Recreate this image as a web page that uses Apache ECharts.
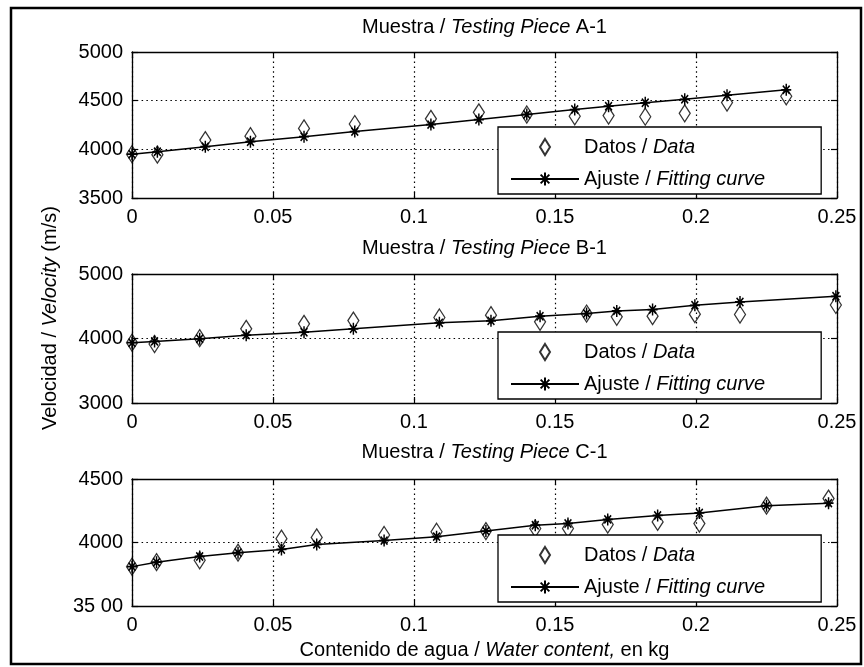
<!DOCTYPE html>
<html><head><meta charset="utf-8">
<script src="https://cdn.jsdelivr.net/npm/echarts@6/dist/echarts.min.js"></script>
<style>html,body{margin:0;padding:0;background:#fff}#c{width:864px;height:667px}</style>
</head><body><div id="c"></div><script>
// ---- tick labels ----
const xTickLabels = ['0', '0.05', '0.1', '0.15', '0.2', '0.25'];
const yTickLabelsA = ['3500', '4000', '4500', '5000'];
const yTickLabelsB = ['3000', '4000', '5000'];
const yTickLabelsC = ['35 00', '4000', '4500'];
const pieceNames = ['A-1', 'B-1', 'C-1'];
const seriesNames = ['Datos / Data', 'Ajuste / Fitting curve'];

// ---- Panel A ----
const xA = [0, 0.009, 0.026, 0.042, 0.061, 0.079, 0.106, 0.123, 0.140, 0.157, 0.169, 0.182, 0.196, 0.211, 0.232];
const dataA = [3950, 3945, 4095, 4135, 4215, 4260, 4313, 4380, 4358, 4340, 4347, 4335, 4370, 4480, 4545];
const fitA = [3950, 3975, 4027, 4078, 4130, 4182, 4254, 4306, 4358, 4409, 4443, 4478, 4514, 4556, 4612];

// ---- Panel B ----
const xB = [0, 0.008, 0.024, 0.0405, 0.061, 0.0785, 0.109, 0.1273, 0.1447, 0.1612, 0.1719, 0.1846, 0.1996, 0.2156, 0.2496];
const dataB = [3935, 3915, 4005, 4150, 4227, 4278, 4326, 4362, 4258, 4387, 4336, 4346, 4377, 4372, 4520];
const fitB = [3935, 3955, 3995, 4052, 4098, 4150, 4243, 4274, 4346, 4387, 4428, 4449, 4515, 4566, 4655];

// ---- Panel C ----
const xC = [0, 0.0087, 0.024, 0.0376, 0.053, 0.0655, 0.0894, 0.108, 0.1255, 0.143, 0.1546, 0.1687, 0.1864, 0.2012, 0.225, 0.247];
const dataC = [3810, 3845, 3860, 3920, 4030, 4040, 4059, 4085, 4090, 4110, 4110, 4141, 4162, 4149, 4290, 4346];
const fitC = [3810, 3845, 3890, 3920, 3945, 3985, 4015, 4046, 4090, 4136, 4150, 4182, 4213, 4233, 4290, 4310];

const FONT = "'Liberation Sans', Arial, Helvetica, sans-serif";
const FS = 20;
const DIAMOND = 'path://M5,0L10,8L5,16L0,8Z';
const STAR = 'path://M5,0L5,10M0,5L10,5M1.6,1.6L8.4,8.4M1.6,8.4L8.4,1.6';

const panels = [
  { x: xA, d: dataA, f: fitA, yMin: 3500, yMax: 5000, yInt: 500, yLab: yTickLabelsA, top: 52, height: 146, titleTop: 17, legendTop: 127 },
  { x: xB, d: dataB, f: fitB, yMin: 3000, yMax: 5000, yInt: 1000, yLab: yTickLabelsB, top: 274, height: 129, titleTop: 238, legendTop: 332 },
  { x: xC, d: dataC, f: fitC, yMin: 3500, yMax: 4500, yInt: 500, yLab: yTickLabelsC, top: 479, height: 127, titleTop: 442, legendTop: 535 }
];

const GL = 132, GR = 27;
const rich = {
  n: { fontFamily: FONT, fontSize: FS, color: '#000', fontWeight: 'normal', lineHeight: 20 },
  i: { fontFamily: FONT, fontSize: FS, color: '#000', fontWeight: 'normal', fontStyle: 'italic', lineHeight: 20 }
};
const dotted = { color: '#000', width: 1.2, type: [1.5, 3.3] };

const grid = [], xAxis = [], yAxis = [], series = [], title = [], legend = [];
panels.forEach((p, i) => {
  grid.push({ left: GL, right: GR, top: p.top, height: p.height, show: false });
  xAxis.push({
    type: 'value', gridIndex: i, min: 0, max: 0.25, interval: 0.05, position: 'bottom',
    axisLine: { show: true, onZero: false, lineStyle: { color: '#000', width: 1.3 } },
    axisTick: { show: true, inside: true, length: 6, lineStyle: { color: '#000', width: 1.2 } },
    axisLabel: { show: true, margin: 9, color: '#000', fontFamily: FONT, fontSize: FS, formatter: (v, k) => xTickLabels[k] },
    splitLine: { show: true, lineStyle: dotted },
    name: i === 2 ? '{n|Contenido de agua / }{i|Water content,}{n| en kg}' : '',
    nameLocation: 'middle', nameGap: 34,
    nameTextStyle: { rich: rich }
  });
  xAxis.push({
    type: 'value', gridIndex: i, min: 0, max: 0.25, interval: 0.05, position: 'top',
    axisLine: { show: true, onZero: false, lineStyle: { color: '#000', width: 1.3 } },
    axisTick: { show: true, inside: true, length: 6, lineStyle: { color: '#000', width: 1.2 } },
    axisLabel: { show: false }, splitLine: { show: false }
  });
  yAxis.push({
    type: 'value', gridIndex: i, min: p.yMin, max: p.yMax, interval: p.yInt, position: 'left',
    axisLine: { show: true, onZero: false, lineStyle: { color: '#000', width: 1.3 } },
    axisTick: { show: true, inside: true, length: 6, lineStyle: { color: '#000', width: 1.2 } },
    axisLabel: { show: true, margin: 9, color: '#000', fontFamily: FONT, fontSize: FS, formatter: (v, k) => p.yLab[k] },
    splitLine: { show: true, lineStyle: dotted }
  });
  yAxis.push({
    type: 'value', gridIndex: i, min: p.yMin, max: p.yMax, interval: p.yInt, position: 'right',
    axisLine: { show: true, onZero: false, lineStyle: { color: '#000', width: 1.3 } },
    axisTick: { show: true, inside: true, length: 6, lineStyle: { color: '#000', width: 1.2 } },
    axisLabel: { show: false }, splitLine: { show: false }
  });
  series.push({
    name: seriesNames[1], type: 'line', xAxisIndex: 2 * i, yAxisIndex: 2 * i,
    data: p.x.map((v, k) => [v, p.f[k]]),
    symbol: STAR, symbolSize: [10, 12], showAllSymbol: true,
    lineStyle: { color: '#000', width: 1.5 },
    itemStyle: { color: '#000', borderColor: '#000', borderWidth: 1.6 },
    z: 2
  });
  series.push({
    name: seriesNames[0], type: 'scatter', xAxisIndex: 2 * i, yAxisIndex: 2 * i,
    data: p.x.map((v, k) => [v, p.d[k]]),
    symbol: DIAMOND, symbolSize: [11, 17],
    itemStyle: { color: 'rgba(0,0,0,0)', borderColor: '#000', borderWidth: 1.3 },
    z: 3
  });
  title.push({
    text: '{n|Muestra / }{i|Testing Piece}{n| ' + pieceNames[i] + '}',
    left: GL + (864 - GL - GR) / 2, top: p.titleTop, textAlign: 'center', padding: 0,
    textStyle: { fontWeight: 'normal', rich: rich }
  });
  legend.push({
    orient: 'vertical', left: 498, top: p.legendTop,
    padding: [10, 56, 5, 12], itemGap: 12, itemWidth: 68, itemHeight: 16,
    backgroundColor: '#fff', borderColor: '#000', borderWidth: 1.3,
    selectedMode: false,
    data: [{ name: seriesNames[0], icon: DIAMOND }, { name: seriesNames[1] }],
    formatter: name => name === seriesNames[0] ? '{n|Datos / }{i|Data}' : '{n|Ajuste / }{i|Fitting curve}',
    textStyle: { rich: rich },
    z: 10
  });
});

const chart = echarts.init(document.getElementById('c'), null, { renderer: 'canvas' });
chart.setOption({
  animation: false,
  backgroundColor: '#fff',
  title: title, grid: grid, xAxis: xAxis, yAxis: yAxis, series: series, legend: legend,
  graphic: [
    { type: 'rect', silent: true, shape: { x: 11, y: 8, width: 850, height: 656 }, style: { fill: 'none', stroke: '#000', lineWidth: 2.5 } },
    { type: 'text', silent: true, x: 50, y: 318, rotation: Math.PI / 2,
      style: { text: '{n|Velocidad / }{i|Velocity}{n| (m/s)}', rich: rich, align: 'center', verticalAlign: 'middle' } }
  ]
});
</script></body></html>
